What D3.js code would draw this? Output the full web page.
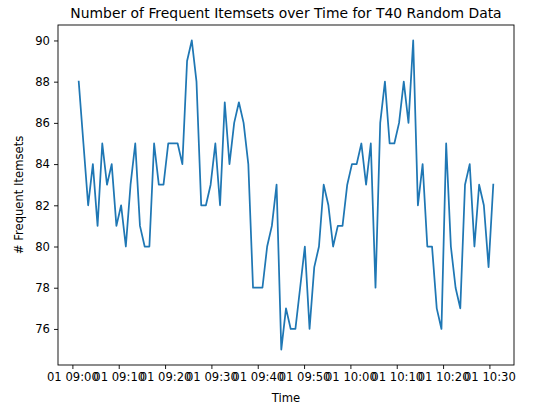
<!DOCTYPE html>
<html>
<head>
<meta charset="utf-8">
<script src="https://cdn.jsdelivr.net/npm/d3@7"></script>
<style>
  body { margin: 0; background: #fff; }
  svg text { font-family: "DejaVu Sans", sans-serif; fill: #000; }
</style>
</head>
<body>
<div id="chart"></div>
<script>
// timestamps (2023-01-01) of each sample
const times = [
  "09:01:22","09:02:23","09:03:24","09:04:25","09:05:26","09:06:27","09:07:28","09:08:29","09:09:30","09:10:31",
  "09:11:32","09:12:33","09:13:34","09:14:35","09:15:36","09:16:37","09:17:38","09:18:39","09:19:40","09:20:41",
  "09:21:42","09:22:43","09:23:44","09:24:45","09:25:46","09:26:47","09:27:48","09:28:49","09:29:50","09:30:51",
  "09:31:52","09:32:53","09:33:54","09:34:55","09:35:56","09:36:57","09:37:58","09:38:59","09:40:00","09:41:01",
  "09:42:02","09:43:03","09:44:04","09:45:05","09:46:06","09:47:07","09:48:08","09:49:09","09:50:10","09:51:11",
  "09:52:12","09:53:13","09:54:14","09:55:15","09:56:16","09:57:17","09:58:18","09:59:19","10:00:20","10:01:21",
  "10:02:22","10:03:23","10:04:24","10:05:25","10:06:26","10:07:27","10:08:28","10:09:29","10:10:30","10:11:31",
  "10:12:32","10:13:33","10:14:34","10:15:35","10:16:36","10:17:37","10:18:38","10:19:39","10:20:40","10:21:41",
  "10:22:42","10:23:43","10:24:44","10:25:45","10:26:46","10:27:47","10:28:48","10:29:49","10:30:50"
];
// number of frequent itemsets
const counts = [
  88,85,82,84,81,85,83,84,81,82,
  80,83,85,81,80,80,85,83,83,85,
  85,85,84,89,90,88,82,82,83,85,
  82,87,84,86,87,86,84,78,78,78,
  80,81,83,75,77,76,76,78,80,76,
  79,80,83,82,80,81,81,83,84,84,
  85,83,85,78,86,88,85,85,86,88,
  86,90,82,84,80,80,77,76,85,80,
  78,77,83,84,80,83,82,79,83
];
const yTicks = [76, 78, 80, 82, 84, 86, 88, 90];
const xTicks = ["09:00","09:10","09:20","09:30","09:40","09:50","10:00","10:10","10:20","10:30"];

const W = 533, H = 407;
const margin = {left: 58, right: 19, top: 25, bottom: 42};
const w = W - margin.left - margin.right,
      h = H - margin.top - margin.bottom;

const parseT = d3.timeParse("%Y-%m-%d %H:%M:%S");
const data = times.map(function(t, i){
  return {time: parseT("2023-01-01 " + t), val: counts[i]};
});

// matplotlib style 5% margins
const tExt = d3.extent(data, d => d.time);
const tPad = (tExt[1] - tExt[0]) * 0.05;
const vExt = d3.extent(data, d => d.val);
const vPad = (vExt[1] - vExt[0]) * 0.05;

const x = d3.scaleTime()
  .domain([new Date(+tExt[0] - tPad), new Date(+tExt[1] + tPad)])
  .range([0, w]);
const y = d3.scaleLinear()
  .domain([vExt[0] - vPad, vExt[1] + vPad])
  .range([h, 0]);

const svg = d3.select("#chart").append("svg")
  .attr("width", W)
  .attr("height", H);

const g = svg.append("g")
  .attr("transform", "translate(" + margin.left + "," + margin.top + ")");

// line
const line = d3.line()
  .x(d => x(d.time))
  .y(d => y(d.val));

g.append("path")
  .datum(data)
  .attr("fill", "none")
  .attr("stroke", "#1f77b4")
  .attr("stroke-width", 1.75)
  .attr("stroke-linejoin", "round")
  .attr("stroke-linecap", "square")
  .attr("d", line);

// axes
const parseTick = d3.timeParse("%Y-%m-%d %H:%M");
const fmt = d3.timeFormat("%d %H:%M");

const xAxis = g.append("g")
  .attr("transform", "translate(0," + h + ")")
  .call(d3.axisBottom(x)
    .tickValues(xTicks.map(t => parseTick("2023-01-01 " + t)))
    .tickFormat(fmt)
    .tickSize(4)
    .tickPadding(4));

const yAxis = g.append("g")
  .call(d3.axisLeft(y)
    .tickValues(yTicks)
    .tickSize(4)
    .tickPadding(4));

[xAxis, yAxis].forEach(function(a){
  a.select(".domain").remove();
  a.selectAll(".tick line").attr("stroke", "#000").attr("stroke-width", 0.9);
  a.selectAll(".tick text").style("font-size", "11.6px").style("font-family", "DejaVu Sans");
});

// frame
g.append("rect")
  .attr("x", 0).attr("y", 0)
  .attr("width", w).attr("height", h)
  .attr("fill", "none")
  .attr("stroke", "#000")
  .attr("stroke-width", 0.9);

// labels
svg.append("text")
  .attr("x", margin.left + w / 2)
  .attr("y", 18)
  .attr("text-anchor", "middle")
  .style("font-size", "13.9px")
  .text("Number of Frequent Itemsets over Time for T40 Random Data");

svg.append("text")
  .attr("x", margin.left + w / 2)
  .attr("y", 402)
  .attr("text-anchor", "middle")
  .style("font-size", "11.6px")
  .text("Time");

svg.append("text")
  .attr("transform", "translate(23," + (margin.top + h / 2) + ") rotate(-90)")
  .attr("text-anchor", "middle")
  .style("font-size", "11.6px")
  .text("# Frequent Itemsets");
</script>
</body>
</html>
